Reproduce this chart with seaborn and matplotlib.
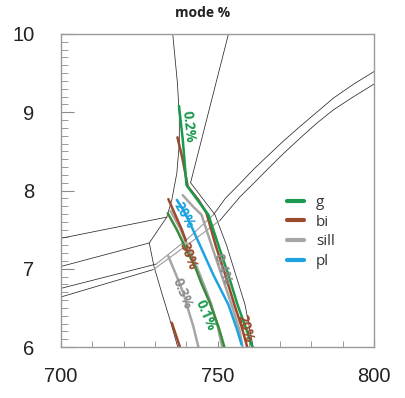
import matplotlib
matplotlib.use("Agg")
import matplotlib.pyplot as plt
from matplotlib.lines import Line2D
import seaborn as sns

# Phase-boundary lines (thin black), T in x, P in y
bnd_top_left_x = [735.7, 737.2, 737.8, 737.8, 737.0, 735.4, 733.8]
bnd_top_left_y = [10.0, 9.37, 8.95, 8.60, 8.22, 7.88, 7.66]
bnd_top_right_x = [753.5, 741.4]
bnd_top_right_y = [10.0, 8.10]
bnd_right_x = [741.4, 749.2, 752.9, 758.8, 761.4]
bnd_right_y = [8.10, 7.69, 7.30, 6.54, 6.00]
bnd_left_a_x = [700, 733.8]
bnd_left_a_y = [7.39, 7.66]
bnd_left_b_x = [700, 728.2, 733.8]
bnd_left_b_y = [7.03, 7.33, 7.66]
bnd_left_c_x = [728.2, 729.7, 732.2, 734.8, 737.3]
bnd_left_c_y = [7.33, 7.03, 6.69, 6.35, 6.00]
bnd_left_d_x = [700, 730.4]
bnd_left_d_y = [6.75, 7.06]
bnd_left_e_x = [700, 729.5]
bnd_left_e_y = [6.64, 6.99]

# narrow double field crossing the diagram
band_mid1_x = [730.4, 740.1, 748.7]
band_mid1_y = [7.06, 7.37, 7.69]
band_mid2_x = [729.5, 741.2, 750.8]
band_mid2_y = [6.99, 7.33, 7.62]
band_up1_x = [748.7, 752.5, 757.2, 761.5, 765.7, 771.0, 776.4, 781.7, 787.0, 793.5, 800.0]
band_up1_y = [7.69, 7.90, 8.09, 8.27, 8.43, 8.63, 8.82, 9.00, 9.18, 9.36, 9.52]
band_up2_x = [750.8, 753.8, 757.2, 761.5, 765.7, 771.0, 776.4, 781.7, 787.0, 793.5, 800.0]
band_up2_y = [7.62, 7.76, 7.92, 8.09, 8.26, 8.47, 8.67, 8.86, 9.03, 9.20, 9.36]

# mode isopleths
g_02_x = [737.7, 738.9, 740.1, 747.1, 750.3, 753.5, 756.4, 759.1, 761.1]
g_02_y = [9.08, 8.65, 8.07, 7.69, 7.30, 6.92, 6.54, 6.24, 6.00]
g_01_x = [734.1, 737.0, 740.1, 742.8, 744.9, 747.6, 750.3, 752.2]
g_01_y = [7.71, 7.50, 7.24, 7.03, 6.81, 6.56, 6.26, 6.00]
bi_20_x = [737.2, 738.9, 740.5, 743.9, 746.5, 749.4, 752.5, 755.4, 757.7, 759.5]
bi_20_y = [8.68, 8.39, 8.05, 7.88, 7.71, 7.30, 6.92, 6.54, 6.26, 6.00]
bi_30_x = [734.3, 735.4, 738.6, 739.9]
bi_30_y = [7.89, 7.79, 7.50, 7.36]
bi_low_x = [735.4, 738.0]
bi_low_y = [6.31, 6.00]
sill_04_x = [738.9, 742.3, 744.9, 748.1, 751.3, 754.5, 757.0, 758.0]
sill_04_y = [7.94, 7.79, 7.69, 7.30, 6.92, 6.54, 6.22, 6.00]
sill_mid_x = [735.0, 738.0, 740.8, 743.3, 745.5, 747.9, 750.1, 751.5]
sill_mid_y = [7.74, 7.52, 7.26, 7.03, 6.81, 6.56, 6.26, 6.00]
sill_03_x = [734.3, 737.0, 739.1, 740.7, 742.3, 743.9]
sill_03_y = [7.16, 6.90, 6.69, 6.47, 6.26, 6.00]
pl_20_x = [737.0, 739.1, 741.7, 744.4, 748.7, 753.5, 756.1, 757.7]
pl_20_y = [7.88, 7.75, 7.54, 7.30, 6.92, 6.54, 6.24, 6.03]

# isopleth labels
label_texts = ["0.2%", "20%", "30%", "0.4%", "0.3%", "0.1%", "20%"]
label_x = [740.7, 739.4, 740.7, 751.5, 738.6, 746.0, 758.8]
label_y = [8.82, 7.68, 7.16, 6.99, 6.69, 6.41, 6.24]
label_rot = [-84, -60, -70, -72, -68, -67, -74]
label_phase = ["g", "pl", "bi", "sill", "sill", "g", "bi"]

phases = ["g", "bi", "sill", "pl"]
colors = {"g": "#1a9a4e", "bi": "#9c4a2c", "sill": "#a6a6a6", "pl": "#1ea3e0"}

sns.set_style("white")
plt.rcParams["font.family"] = ["Liberation Sans", "DejaVu Sans"]

fig = plt.figure(figsize=(4.05, 3.98), dpi=100)
ax = fig.add_axes([0.1506, 0.128, 0.7729, 0.7866])

thin = dict(color="#2a2a2a", lw=0.55, sort=False, estimator=None, ax=ax)
for xs, ys in [(bnd_top_left_x, bnd_top_left_y), (bnd_top_right_x, bnd_top_right_y),
               (bnd_right_x, bnd_right_y), (bnd_left_a_x, bnd_left_a_y),
               (bnd_left_b_x, bnd_left_b_y), (bnd_left_c_x, bnd_left_c_y),
               (bnd_left_d_x, bnd_left_d_y), (bnd_left_e_x, bnd_left_e_y),
               (band_up1_x, band_up1_y), (band_up2_x, band_up2_y)]:
    sns.lineplot(x=xs, y=ys, **thin)
for xs, ys in [(band_mid1_x, band_mid1_y), (band_mid2_x, band_mid2_y)]:
    sns.lineplot(x=xs, y=ys, color="#9a9a9a", lw=0.8, sort=False, estimator=None, ax=ax)

iso = [(sill_mid_x, sill_mid_y, colors["sill"]),
       (sill_03_x, sill_03_y, colors["sill"]),
       (sill_04_x, sill_04_y, colors["sill"]),
       (g_01_x, g_01_y, "#3d8a3c"),
       (bi_30_x, bi_30_y, colors["bi"]),
       (bi_low_x, bi_low_y, colors["bi"]),
       (pl_20_x, pl_20_y, colors["pl"]),
       (bi_20_x, bi_20_y, colors["bi"]),
       (g_02_x, g_02_y, colors["g"])]
for xs, ys, c in iso:
    sns.lineplot(x=xs, y=ys, color=c, lw=1.8, sort=False, estimator=None, ax=ax)

for t, x, y, r, p in zip(label_texts, label_x, label_y, label_rot, label_phase):
    c = "#8c8c8c" if p == "sill" else colors[p]
    ax.text(x, y, t, rotation=r, rotation_mode="anchor", ha="center", va="center",
            color=c, fontsize=10, fontweight="bold", family=["Open Sans", "DejaVu Sans"])

ax.set_xlim(700, 800)
ax.set_ylim(6, 10)
ax.set_xticks([700, 750, 800])
ax.set_xticks(range(700, 801, 10), minor=True)
ax.set_yticks([6, 7, 8, 9, 10])
ax.set_yticks([6 + 0.1 * i for i in range(41)], minor=True)
ax.tick_params(axis="both", which="both", direction="in", colors="#8a8a8a",
               labelcolor="#222222", labelsize=14.5)
ax.tick_params(axis="y", which="major", length=9, width=0.8, pad=19, left=True)
ax.tick_params(axis="y", which="minor", length=5, width=0.6, left=True)
ax.tick_params(axis="x", which="major", length=4, width=0.8, pad=14, bottom=True)
ax.tick_params(axis="x", which="minor", length=4, width=0.6, bottom=True)
for s in ax.spines.values():
    s.set_color("#9a9a9a")
    s.set_linewidth(1.0)
ax.set_xlabel("")
ax.set_ylabel("")

handles = [Line2D([0], [0], color=colors[p], lw=3) for p in phases]
ax.legend(handles, phases, loc="upper left", bbox_to_anchor=(0.722, 0.485),
          frameon=False, borderpad=0, borderaxespad=0, handlelength=1.1,
          handletextpad=0.8, labelspacing=0.3,
          prop={"family": ["Open Sans", "DejaVu Sans"], "size": 11},
          labelcolor="#333333")

fig.text(0.5, 0.968, "mode %", ha="center", va="center", fontsize=10,
         fontweight="bold", family=["Open Sans", "DejaVu Sans"], color="#222222")

fig.savefig("out.png", dpi=100)
